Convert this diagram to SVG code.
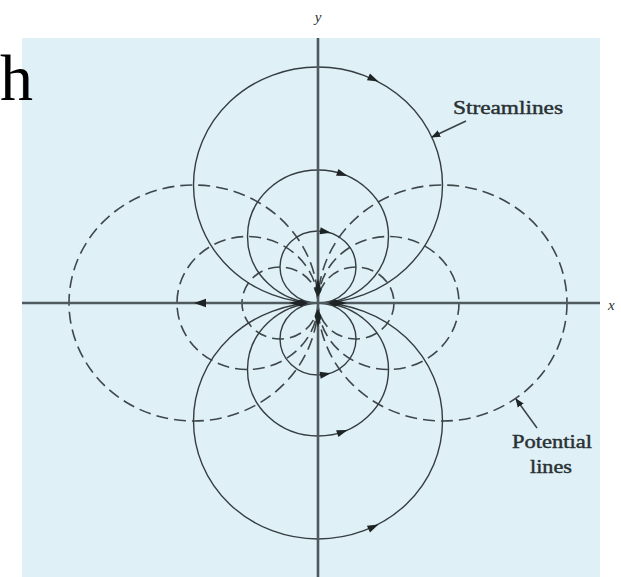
<svg xmlns="http://www.w3.org/2000/svg" width="621" height="577" viewBox="0 0 621 577">
<style>
.stream{fill:none;stroke:#353d41;stroke-width:1.4}
.pot{fill:none;stroke:#3f474b;stroke-width:1.6;stroke-dasharray:12 6}
.axis{stroke:#4f5a5e;stroke-width:2.6}
.lbl{font-family:"Liberation Serif","Times New Roman",serif;fill:#2a3134}
.bold{stroke:#2a3134;stroke-width:0.45}
.ah{fill:#1e2426}
.ptr{stroke:#3a4246;stroke-width:1.5;fill:none}
</style>
<defs>
<path id="arw" d="M6,0 L-5,-3.6 L-5,3.6 Z"/>
<marker id="ptrhead" viewBox="0 0 10 10" refX="9" refY="5" markerWidth="9" markerHeight="9" markerUnits="userSpaceOnUse" orient="auto">
<path d="M0,1 L10,5 L0,9 Z" fill="#1e2426"/>
</marker>
</defs>
<rect id="background" x="22" y="38" width="578" height="539" fill="#dff0f7"/>
<text id="slide-h" x="0" y="100" font-family="Liberation Serif, Times New Roman, serif" font-size="66" fill="#000">h</text>
<g id="potential-lines">
<ellipse class="pot" cx="193.5" cy="303" rx="124.5" ry="118"/>
<ellipse class="pot" cx="247.5" cy="303" rx="70.5" ry="66.5"/>
<ellipse class="pot" cx="280" cy="303" rx="38" ry="36"/>
<ellipse class="pot" cx="442.5" cy="303" rx="124.5" ry="118"/>
<ellipse class="pot" cx="388.5" cy="303" rx="70.5" ry="66.5"/>
<ellipse class="pot" cx="356" cy="303" rx="38" ry="36"/>
</g>
<g id="streamlines">
<ellipse class="stream" cx="318" cy="185" rx="124.5" ry="118"/>
<ellipse class="stream" cx="318" cy="236.5" rx="70.5" ry="66.5"/>
<ellipse class="stream" cx="318" cy="267" rx="38" ry="36"/>
<ellipse class="stream" cx="318" cy="421" rx="124.5" ry="118"/>
<ellipse class="stream" cx="318" cy="369.5" rx="70.5" ry="66.5"/>
<ellipse class="stream" cx="318" cy="339" rx="38" ry="36"/>
<use href="#arw" class="ah" transform="translate(373,79) rotate(25)"/>
<use href="#arw" class="ah" transform="translate(342,174) rotate(19)"/>
<use href="#arw" class="ah" transform="translate(325,231.6) rotate(10)"/>
<use href="#arw" class="ah" transform="translate(325,374.4) rotate(-10)"/>
<use href="#arw" class="ah" transform="translate(342,432) rotate(-19)"/>
<use href="#arw" class="ah" transform="translate(373,527) rotate(-25)"/>
</g>
<g id="axes">
<line class="axis" x1="22" y1="303" x2="600" y2="303"/>
<line class="axis" x1="318" y1="38" x2="318" y2="577"/>
<path class="ah" d="M194,303 L206,298.8 L206,307.2 Z"/>
<g id="origin-bundle" class="ah">
<path d="M289,303 L301,299.5 L308,303 L301,306.5 Z"/>
<path d="M347,303 L335,299.5 L328,303 L335,306.5 Z"/>
<path d="M318,279 L321.5,290 L318,297 L314.5,290 Z"/>
<path d="M318,327 L321.5,316 L318,309 L314.5,316 Z"/>
</g>
<text class="lbl" x="318" y="22" font-size="15" font-style="italic" text-anchor="middle">y</text>
<text class="lbl" x="608" y="310" font-size="15" font-style="italic">x</text>
</g>
<g id="connectors">
<line class="ptr" x1="466" y1="121" x2="432" y2="137" marker-end="url(#ptrhead)"/>
<line class="ptr" x1="537" y1="428" x2="516" y2="399" marker-end="url(#ptrhead)"/>
</g>
<g id="labels">
<text id="lbl-streamlines" class="lbl bold" x="453" y="114" font-size="19" textLength="110" lengthAdjust="spacingAndGlyphs">Streamlines</text>
<text id="lbl-potential" class="lbl bold" x="552" y="448" font-size="19" text-anchor="middle" textLength="80" lengthAdjust="spacingAndGlyphs">Potential</text>
<text id="lbl-lines" class="lbl bold" x="551" y="473" font-size="19" text-anchor="middle" textLength="42" lengthAdjust="spacingAndGlyphs">lines</text>
</g>
</svg>
